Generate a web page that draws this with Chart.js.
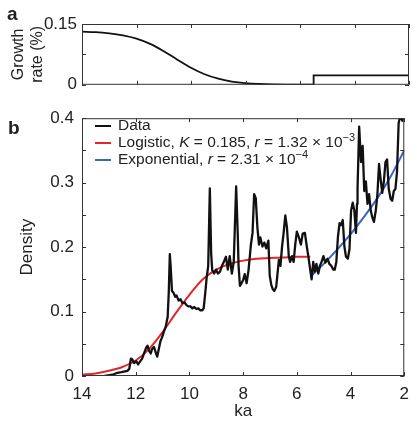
<!DOCTYPE html>
<html>
<head>
<meta charset="utf-8">
<script src="https://cdn.jsdelivr.net/npm/chart.js@4.4.1/dist/chart.umd.min.js"></script>
<style>
  body { margin: 0; background: #fff; width: 417px; height: 423px; overflow: hidden; position: relative;
         font-family: "Liberation Sans", Arial, sans-serif; color: #222; }
  canvas { position: absolute; left: 0; }
  #cvA { top: 0; }
  #cvB { top: 100px; }
  .panel { position: absolute; font-weight: bold; font-size: 19px; line-height: 22px; }
  #legend { position: absolute; left: 95px; top: 116px; font-size: 15.5px; line-height: 17px; }
  .row { height: 17px; white-space: nowrap; }
  .swatch { display: inline-block; width: 16px; height: 2px; vertical-align: middle; margin-right: 7px; }
  sup { font-size: 11px; vertical-align: 6px; line-height: 0; }
</style>
</head>
<body>
<canvas id="cvA" width="417" height="100"></canvas>
<canvas id="cvB" width="417" height="323"></canvas>
<div class="panel" style="left:7px; top:3px;">a</div>
<div class="panel" style="left:8px; top:117px;">b</div>
<div id="legend">
  <div class="row"><span class="swatch" style="background:#111"></span>Data</div>
  <div class="row"><span class="swatch" style="background:#e3262b"></span>Logistic, <i>K</i> = 0.185, <i>r</i> = 1.32 × 10<sup>−3</sup></div>
  <div class="row"><span class="swatch" style="background:#3a66c0"></span>Exponential, <i>r</i> = 2.31 × 10<sup>−4</sup></div>
</div>
<script>
// ---- panel a: growth rate (%) ----
const growthKa   = [14, 13.5, 13, 12.5, 12, 11.5, 11, 10.5, 10, 9.5, 9, 8.5, 8, 7.5, 7, 6.5, 6, 5.5];
const growthRate = [0.131, 0.130, 0.127, 0.122, 0.114, 0.101, 0.083, 0.062, 0.042, 0.026, 0.015, 0.008, 0.004, 0.002, 0.001, 0.0005, 0.0003, 0.0002];
const stepKa     = [5.5, 5.5, 2];
const stepRate   = [0.0002, 0.0231, 0.0231];

// ---- panel b: density ----
const dataKa = [13.16, 12.86, 12.68, 12.53, 12.31, 12.24, 12.18, 12.13, 12.06, 11.98, 11.91, 11.83, 11.76, 11.69,
  11.61, 11.56, 11.50, 11.44, 11.39, 11.32, 11.25, 11.20, 11.14, 11.08, 11.02, 10.95, 10.88, 10.81, 10.77, 10.73,
  10.70, 10.65, 10.59, 10.53, 10.48, 10.40, 10.33, 10.26, 10.18, 10.11, 10.04, 9.96, 9.89, 9.82, 9.74, 9.67, 9.60,
  9.52, 9.47, 9.41, 9.36, 9.30, 9.24, 9.19, 9.15, 9.08, 9.01, 8.94, 8.86, 8.79, 8.72, 8.64, 8.57, 8.50, 8.42, 8.35,
  8.26, 8.20, 8.17, 8.12, 8.06, 8.00, 7.94, 7.87, 7.80, 7.71, 7.65, 7.59, 7.53, 7.47, 7.41, 7.36, 7.28, 7.21, 7.14,
  7.06, 7.01, 6.95, 6.90, 6.84, 6.77, 6.72, 6.67, 6.61, 6.55, 6.50, 6.43, 6.37, 6.30, 6.25, 6.18, 6.12, 6.06, 6.00,
  5.93, 5.85, 5.78, 5.70, 5.63, 5.57, 5.51, 5.45, 5.39, 5.33, 5.27, 5.20, 5.14, 5.08, 5.01, 4.94, 4.86, 4.79, 4.72,
  4.64, 4.59, 4.53, 4.47, 4.41, 4.35, 4.29, 4.23, 4.17, 4.10, 4.04, 3.98, 3.92, 3.86, 3.80, 3.76, 3.74, 3.68, 3.61,
  3.55, 3.49, 3.43, 3.37, 3.31, 3.25, 3.19, 3.13, 3.06, 3.00, 2.94, 2.88, 2.82, 2.76, 2.70, 2.64, 2.58, 2.51, 2.45,
  2.39, 2.33, 2.27, 2.21, 2.15, 2.07, 2.00];
const dataDensity = [0.000, 0.002, 0.005, 0.006, 0.008, 0.011, 0.027, 0.026, 0.020, 0.023, 0.018, 0.023, 0.027, 0.035,
  0.044, 0.047, 0.039, 0.035, 0.042, 0.045, 0.036, 0.030, 0.042, 0.054, 0.060, 0.069, 0.077, 0.092, 0.129, 0.189,
  0.171, 0.132, 0.129, 0.123, 0.125, 0.117, 0.119, 0.113, 0.114, 0.110, 0.108, 0.108, 0.105, 0.107, 0.104, 0.105, 0.102,
  0.102, 0.105, 0.129, 0.152, 0.171, 0.291, 0.189, 0.164, 0.159, 0.165, 0.159, 0.162, 0.171, 0.177, 0.185, 0.165, 0.186, 0.159, 0.177,
  0.294, 0.219, 0.171, 0.140, 0.144, 0.149, 0.158, 0.144, 0.164, 0.204, 0.222, 0.282, 0.276, 0.231, 0.204, 0.215, 0.201, 0.207, 0.198,
  0.210, 0.156, 0.141, 0.135, 0.132, 0.138, 0.159, 0.180, 0.171, 0.201, 0.219, 0.249, 0.231, 0.186, 0.177, 0.186, 0.177, 0.204, 0.224,
  0.216, 0.204, 0.221, 0.222, 0.201, 0.185, 0.167, 0.150, 0.177, 0.162, 0.174, 0.159, 0.171, 0.177, 0.186, 0.176, 0.182, 0.174, 0.171,
  0.165, 0.165, 0.177, 0.216, 0.237, 0.234, 0.242, 0.201, 0.185, 0.182, 0.197, 0.257, 0.269, 0.257, 0.222, 0.267, 0.291, 0.387, 0.332,
  0.357, 0.287, 0.302, 0.267, 0.282, 0.257, 0.246, 0.239, 0.257, 0.282, 0.329, 0.305, 0.284, 0.302, 0.332, 0.336, 0.291, 0.275, 0.272,
  0.287, 0.290, 0.317, 0.392, 0.404, 0.396, 0.410];

const logisticKa      = [14, 13.5, 13, 12.5, 12, 11.5, 11, 10.5, 10, 9.5, 9, 8.5, 8, 7.5, 7, 6.5, 6, 5.5];
const logisticDensity = [0.002, 0.004, 0.008, 0.014, 0.024, 0.042, 0.068, 0.098, 0.126, 0.150, 0.165, 0.174, 0.179, 0.182, 0.183, 0.184, 0.185, 0.185];

const expKa      = [5.5, 5.0, 4.5, 4.0, 3.5, 3.0, 2.5, 2.0];
const expDensity = [0.154, 0.174, 0.196, 0.220, 0.247, 0.276, 0.310, 0.350];

const kaTicks = [14, 12, 10, 8, 6, 4, 2];


function toPoints(xs, ys) {
    return xs.map((x, i) => ({x: x, y: ys[i]}));
}

Chart.defaults.font.family = '"Liberation Sans", Arial, sans-serif';
Chart.defaults.font.size = 17;
Chart.defaults.color = '#222';

// Frame with MATLAB style inward ticks on all four sides
const frameTicks = {
    id: 'frameTicks',
    afterDatasetsDraw(chart) {
        const {ctx, chartArea: a, scales: {x, y}} = chart;
        ctx.save();
        ctx.strokeStyle = '#333';
        ctx.lineWidth = 1;
        ctx.strokeRect(a.left + 0.5, a.top + 0.5, a.width - 1, a.height - 1);
        ctx.beginPath();
        x.ticks.forEach(t => {
            const px = Math.round(x.getPixelForValue(t.value)) + 0.5;
            ctx.moveTo(px, a.bottom); ctx.lineTo(px, a.bottom - 4);
            ctx.moveTo(px, a.top); ctx.lineTo(px, a.top + 4);
        });
        y.ticks.forEach(t => {
            const py = Math.round(y.getPixelForValue(t.value)) + 0.5;
            ctx.moveTo(a.left, py); ctx.lineTo(a.left + 4, py);
            ctx.moveTo(a.right, py); ctx.lineTo(a.right - 4, py);
        });
        ctx.stroke();
        ctx.restore();
    }
};

function xScale(showLabels, height, title) {
    return {
        type: 'linear', min: 2, max: 14, reverse: true,
        grid: {display: false, drawTicks: false}, border: {display: false},
        afterBuildTicks: s => { s.ticks = kaTicks.map(v => ({value: v})); },
        ticks: {display: showLabels, padding: 8},
        title: title ? {display: true, text: title, padding: {top: 0, bottom: 1}} : {display: false},
        afterFit: s => { s.height = height; }
    };
}


//====================== PANEL A ========================
new Chart(document.getElementById('cvA'), {
    type: 'line',
    data: {
        datasets: [
            {data: toPoints(growthKa, growthRate), borderColor: '#111', borderWidth: 1.8,
             pointRadius: 0, cubicInterpolationMode: 'monotone'},
            {data: toPoints(stepKa, stepRate), borderColor: '#111', borderWidth: 1.8,
             pointRadius: 0, tension: 0}
        ]
    },
    options: {
        responsive: false, animation: false,
        layout: {padding: {top: 24, right: 8, left: 0, bottom: 0}},
        plugins: {legend: {display: false}, tooltip: {enabled: false}},
        scales: {
            x: xScale(false, 10, null),
            y: {
                min: 0, max: 0.15,
                grid: {display: false, drawTicks: false}, border: {display: false},
                ticks: {stepSize: 0.075, padding: 5,
                    callback: v => (Math.round(v * 1000) % 150 === 0 ? String(v) : '')},
                title: {display: true, text: ['Growth', 'rate (%)'], font: {size: 16},
                        padding: {top: 9, bottom: 0}},
                afterFit: s => { s.width = 82; }
            }
        }
    },
    plugins: [frameTicks]
});


//====================== PANEL B ========================
new Chart(document.getElementById('cvB'), {
    type: 'line',
    data: {
        datasets: [
            {label: 'Data', data: toPoints(dataKa, dataDensity), borderColor: '#111', borderWidth: 2.3,
             pointRadius: 0, tension: 0, borderJoinStyle: 'round'},
            {label: 'Logistic', data: toPoints(logisticKa, logisticDensity), borderColor: '#e3262b', borderWidth: 2,
             pointRadius: 0, cubicInterpolationMode: 'monotone'},
            {label: 'Exponential', data: toPoints(expKa, expDensity), borderColor: '#3a66c0', borderWidth: 2,
             pointRadius: 0, cubicInterpolationMode: 'monotone'}
        ]
    },
    options: {
        responsive: false, animation: false,
        layout: {padding: {top: 10, right: 8, left: 0, bottom: 0}},
        plugins: {legend: {display: false}, tooltip: {enabled: false}},
        scales: {
            x: xScale(true, 47, 'ka'),
            y: {
                min: 0, max: 0.4,
                grid: {display: false, drawTicks: false}, border: {display: false},
                ticks: {stepSize: 0.05, padding: 8,
                    callback: v => { const t = Math.round(v * 100); return t % 10 === 0 ? String(t / 100) : ''; }},
                title: {display: true, text: 'Density', padding: {top: 17, bottom: 0}},
                afterFit: s => { s.width = 82; }
            }
        }
    },
    plugins: [frameTicks]
});
</script>
</body>
</html>
